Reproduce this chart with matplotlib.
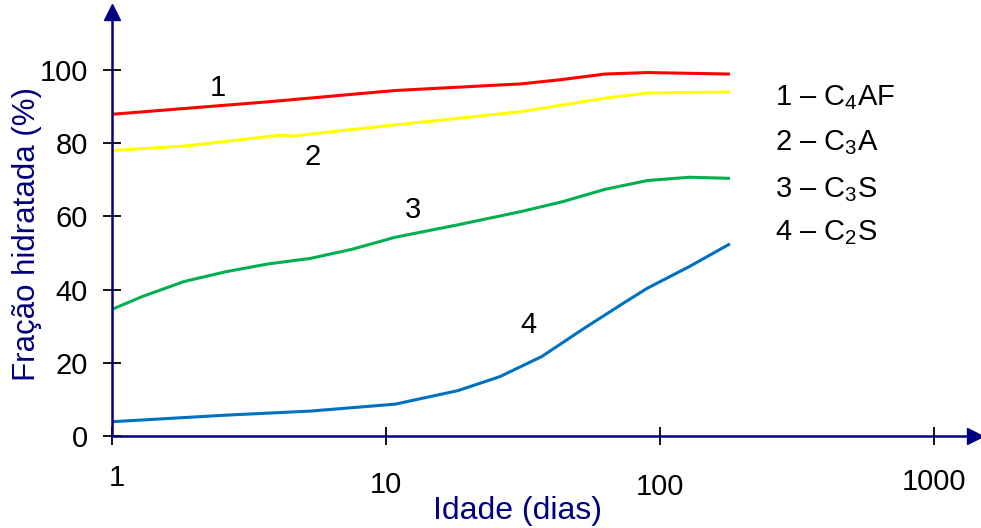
import numpy as np
import matplotlib
matplotlib.use("Agg")
import matplotlib.pyplot as plt

plt.rcParams['font.family'] = ['Liberation Sans', 'DejaVu Sans']
plt.rcParams['mathtext.fontset'] = 'custom'
plt.rcParams['mathtext.rm'] = 'Liberation Sans'

# data (age in days, hydrated fraction in %)
days_c4af = [1, 3.7, 10.8, 31, 44, 63, 90, 180]
frac_c4af = [87.9, 91.3, 94.4, 96.2, 97.4, 98.9, 99.3, 98.9]

days_c3a = [1, 1.83, 3.7, 4.14, 4.6, 10.8, 31, 63, 90, 180]
frac_c3a = [78.0, 79.2, 81.8, 82.2, 82.0, 85.0, 88.6, 92.3, 93.7, 94.0]

days_c3s = [1, 1.29, 1.83, 2.61, 3.7, 5.28, 7.5, 10.8, 18.3, 31, 44, 63, 90, 128, 180]
frac_c3s = [34.6, 38.1, 42.2, 44.9, 47.0, 48.5, 51.0, 54.3, 57.7, 61.3, 64.0, 67.4, 69.8, 70.7, 70.4]

days_c2s = [1, 2.61, 5.28, 10.8, 18.3, 26, 37, 52.8, 75, 90, 128, 180]
frac_c2s = [3.9, 5.7, 6.8, 8.7, 12.4, 16.2, 21.7, 29.4, 36.7, 40.4, 46.3, 52.5]

series = [
    (days_c4af, frac_c4af, '#FF0000'),
    (days_c3a, frac_c3a, '#FFFF00'),
    (days_c3s, frac_c3s, '#00B050'),
    (days_c2s, frac_c2s, '#0070C0'),
]

curve_labels = ['1', '2', '3', '4']
curve_label_pos = [(2.44, 95.0), (5.4, 76.2), (12.5, 61.7), (33, 30.3)]

legend_text = [r'1 – C$_\mathregular{4}$AF', r'2 – C$_\mathregular{3}$A',
               r'3 – C$_\mathregular{3}$S', r'4 – C$_\mathregular{2}$S']

navy = '#000080'
fs = 21

fig = plt.figure(figsize=(9.81, 5.28), dpi=100)
ax = fig.add_axes([112 / 981, (528 - 436) / 528, 863 / 981, 424 / 528])

for x, y, c in series:
    ax.plot(x, y, color=c, lw=2.2, solid_capstyle='butt')

ax.set_xscale('log')
ax.set_xlim(1, 10 ** (863 / 274))
ax.set_ylim(0, 424 / 3.66)

for s in ['top', 'right']:
    ax.spines[s].set_visible(False)
for s in ['left', 'bottom']:
    ax.spines[s].set_color(navy)
    ax.spines[s].set_linewidth(1.8)

# arrow heads
ax.plot(1, 0, marker='>', color=navy, markersize=11, transform=ax.transAxes, clip_on=False)
ax.plot(0, 1, marker='^', color=navy, markersize=11, transform=ax.transAxes, clip_on=False)

ax.set_yticks([0, 20, 40, 60, 80, 100])
ax.tick_params(axis='y', direction='inout', length=13, width=1.3, color='black',
               labelsize=fs, pad=11)
ax.set_xticks([1, 10, 100, 1000])
ax.xaxis.set_minor_locator(matplotlib.ticker.NullLocator())
ax.tick_params(axis='x', direction='inout', length=13, width=1.3, color='black',
               labelbottom=False)

# x tick labels sit at uneven heights in the original
xt_pos = [(1.04, -0.099), (10, -0.116), (100, -0.12), (1000, -0.108)]
xt_text = ['1', '10', '100', '1000']
for (xv, yv), t in zip(xt_pos, xt_text):
    ax.text(xv, yv, t, transform=ax.get_xaxis_transform(), ha='center', va='center',
            fontsize=fs, color='black')

ax.text(0.47, -0.178, 'Idade (dias)', transform=ax.transAxes, ha='center', va='center',
        fontsize=23, color=navy)
fig.text(27 / 981, (528 - 234) / 528, 'Fração hidratada (%)', rotation=90,
         ha='center', va='center', fontsize=22.5, color=navy)

for t, (xv, yv) in zip(curve_labels, curve_label_pos):
    ax.text(xv, yv, t, ha='center', va='center', fontsize=fs, color='black')

legend_y = [98, 143, 190, 233]
for t, yp in zip(legend_text, legend_y):
    fig.text(775 / 981, (528 - yp) / 528, t, ha='left', va='center',
             fontsize=fs, color='black')

fig.savefig('out.png', dpi=100)
